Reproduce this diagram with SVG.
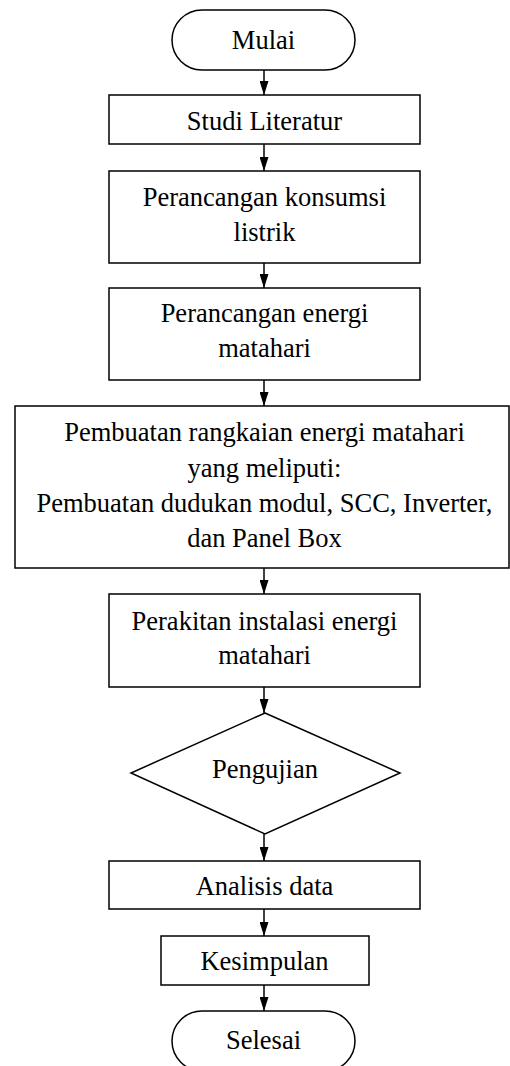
<svg xmlns="http://www.w3.org/2000/svg" width="510" height="1066" viewBox="0 0 510 1066">
<style>
.s{fill:#fff;stroke:#000;stroke-width:1.5}
.t{font-family:"Liberation Serif","Times New Roman",serif;font-size:26.5px;fill:#000;text-anchor:middle}
.c{stroke:#000;stroke-width:1.5;fill:none;marker-end:url(#ah)}
</style>
<defs>
<marker id="ah" markerUnits="userSpaceOnUse" markerWidth="14" markerHeight="9" refX="14" refY="4.5" orient="auto" viewBox="0 0 14 9">
<path d="M0,0 L14,4.5 L0,9 Z" fill="#000"/>
</marker>
</defs>
<rect width="510" height="1066" fill="#fff"/>
<g id="connectors">
<path class="c" d="M264,70V95"/>
<path class="c" d="M264,144V171"/>
<path class="c" d="M264,263V288"/>
<path class="c" d="M264,380V406"/>
<path class="c" d="M264,568V594"/>
<path class="c" d="M264,687V713"/>
<path class="c" d="M264,834V861"/>
<path class="c" d="M264,909V936"/>
<path class="c" d="M264,985V1011"/>
</g>
<g id="mulai">
<rect class="s" x="172" y="10" width="183" height="60" rx="30" ry="30"/>
<text class="t" x="263.5" y="49">Mulai</text>
</g>
<g id="studi">
<rect class="s" x="109" y="95" width="311" height="49"/>
<text class="t" x="264.5" y="130">Studi Literatur</text>
</g>
<g id="konsumsi">
<rect class="s" x="109" y="171" width="311" height="92"/>
<text class="t" x="264.5" y="206">Perancangan konsumsi</text>
<text class="t" x="264.5" y="241">listrik</text>
</g>
<g id="energi">
<rect class="s" x="109" y="288" width="311" height="92"/>
<text class="t" x="264.5" y="322">Perancangan energi</text>
<text class="t" x="264.5" y="357">matahari</text>
</g>
<g id="pembuatan">
<rect class="s" x="15" y="406" width="494" height="162"/>
<text class="t" x="264.5" y="441">Pembuatan rangkaian energi matahari</text>
<text class="t" x="264.5" y="477">yang meliputi:</text>
<text class="t" x="264.5" y="512">Pembuatan dudukan modul, SCC, Inverter,</text>
<text class="t" x="264.5" y="547">dan Panel Box</text>
</g>
<g id="perakitan">
<rect class="s" x="109" y="594" width="311" height="93"/>
<text class="t" x="264.5" y="630">Perakitan instalasi energi</text>
<text class="t" x="264.5" y="664">matahari</text>
</g>
<g id="pengujian">
<polygon class="s" points="265,713 400,773 265,834 131,773"/>
<text class="t" x="265" y="778">Pengujian</text>
</g>
<g id="analisis">
<rect class="s" x="109" y="861" width="311" height="48"/>
<text class="t" x="264.5" y="895">Analisis data</text>
</g>
<g id="kesimpulan">
<rect class="s" x="161" y="936" width="208" height="49"/>
<text class="t" x="264.5" y="970">Kesimpulan</text>
</g>
<g id="selesai">
<rect class="s" x="172" y="1011" width="183" height="60" rx="30" ry="30"/>
<text class="t" x="263.5" y="1049">Selesai</text>
</g>
</svg>
